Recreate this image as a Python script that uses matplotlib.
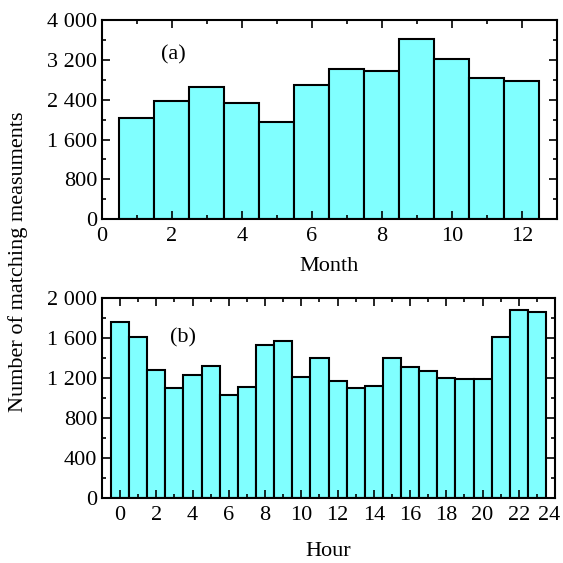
# Monthly and hourly counts of matching measurements, two stacked bar panels
import numpy as np
import matplotlib
matplotlib.use('Agg')
import matplotlib.pyplot as plt
import matplotlib.transforms as mtrans
from matplotlib.ticker import MultipleLocator, FuncFormatter

# data
months = np.arange(1, 13)
month_counts = [2030, 2370, 2655, 2330, 1955, 2690, 3015, 2975, 3620, 3230, 2845, 2785]

hours = np.arange(0, 24)
hour_counts = [1765, 1615, 1285, 1100, 1235, 1325, 1035, 1115, 1535, 1575, 1210, 1400,
               1175, 1100, 1125, 1400, 1315, 1275, 1200, 1190, 1190, 1615, 1885, 1865]

hour_ticks = np.arange(0, 25, 2)
hour_ticklabels = [str(h) for h in hour_ticks]

plt.rcParams['font.family'] = ['Liberation Serif', 'DejaVu Serif']
plt.rcParams['font.size'] = 16

bar_color = '#80ffff'


def thousands(v, pos):
    # "4 000" style labels
    return '{:,.0f}'.format(v).replace(',', ' ')


def style_axes(ax):
    ax.tick_params(which='both', direction='in', top=True, right=True, width=1.2,
                   labelsize=16)
    ax.tick_params(which='major', length=6)
    ax.tick_params(which='minor', length=3)
    ax.tick_params(axis='x', pad=6)
    for sp in ax.spines.values():
        sp.set_linewidth(1.5)


fig = plt.figure(figsize=(5.63, 5.63), dpi=100)

# top panel: month
ax1 = fig.add_axes([0.181, 0.611, 0.808, 0.353])
ax1.bar(months, month_counts, width=1.0, color=bar_color, edgecolor='black', linewidth=1.5)
ax1.set_xlim(0, 13)
ax1.set_ylim(0, 4000)
ax1.xaxis.set_major_locator(MultipleLocator(2))
ax1.xaxis.set_minor_locator(MultipleLocator(1))
ax1.yaxis.set_major_locator(MultipleLocator(800))
ax1.yaxis.set_minor_locator(MultipleLocator(400))
ax1.yaxis.set_major_formatter(FuncFormatter(thousands))
ax1.set_xlabel('Month', fontsize=16, labelpad=8)
ax1.text(2.05, 3300, '(a)', ha='center', va='center', fontsize=16)
style_axes(ax1)

# bottom panel: hour
ax2 = fig.add_axes([0.181, 0.1155, 0.805, 0.355])
ax2.bar(hours, hour_counts, width=1.0, color=bar_color, edgecolor='black', linewidth=1.5)
ax2.set_xlim(-1, 24)
ax2.set_ylim(0, 2000)
ax2.set_xticks(hour_ticks)
ax2.set_xticklabels(hour_ticklabels)
ax2.xaxis.set_minor_locator(MultipleLocator(1))
ax2.yaxis.set_major_locator(MultipleLocator(400))
ax2.yaxis.set_minor_locator(MultipleLocator(200))
ax2.yaxis.set_major_formatter(FuncFormatter(thousands))
ax2.set_xlabel('Hour', fontsize=16, labelpad=12)
ax2.text(3.5, 1600, '(b)', ha='center', va='center', fontsize=16)
style_axes(ax2)

# nudge the last hour label left so it stays inside the figure
last = ax2.get_xticklabels()[-1]
last.set_transform(last.get_transform() + mtrans.ScaledTranslation(-4 / 72, 0, fig.dpi_scale_trans))

# shared y label
fig.text(0.032, 0.535, 'Number of matching measuments', rotation=90,
         ha='center', va='center', fontsize=16)

fig.savefig('out.png', dpi=100)
